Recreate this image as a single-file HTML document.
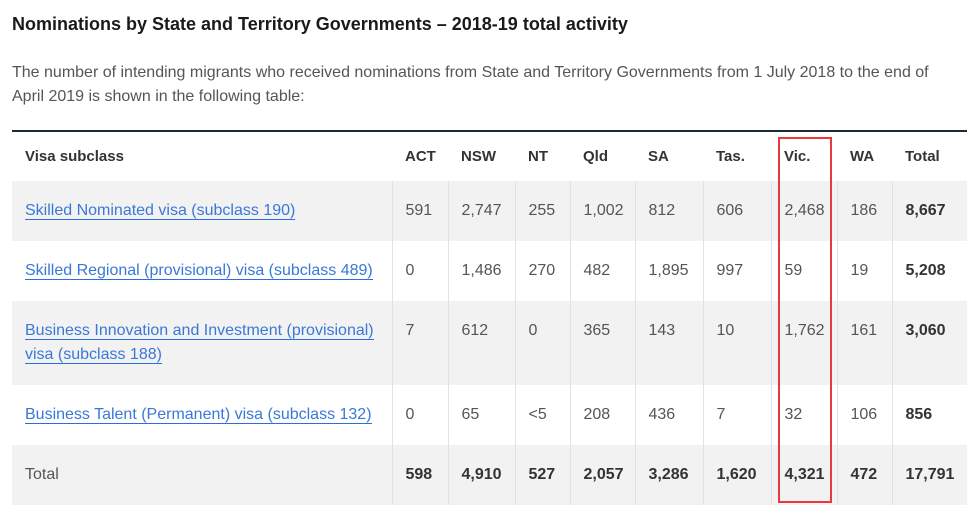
<!DOCTYPE html>
<html><head><meta charset="utf-8"><style>
body{margin:0;background:#fff;font-family:"Liberation Sans",sans-serif;width:979px;height:513px;overflow:hidden;position:relative}
h1{position:absolute;left:12px;top:14px;margin:0;font-size:18px;font-weight:bold;color:#1a1a1a}
p{position:absolute;left:12px;top:61px;margin:0;width:950px;font-size:16px;line-height:24px;color:#555}
table{position:absolute;left:12px;top:130px;border-collapse:collapse;table-layout:fixed;width:955px;border-top:2px solid #1c2a3a}
td,th{font-size:16px;line-height:24px;padding:18px 0 18px 13px;text-align:left;vertical-align:top;color:#555;font-weight:normal;border-left:1px solid #e2e2e2}
td:first-child,th{border-left:none}
th{font-size:15px;color:#333;font-weight:bold;padding:13px 0 12px 13px}
tr.g td{background:#f2f2f2}
td b{color:#333}
a{color:#3a78d8;text-decoration:none;border-bottom:1.5px solid #2a6ee0}
#vic{position:absolute;left:778px;top:137px;width:50px;height:362px;border:2.5px solid #e8393b}
</style></head><body>
<h1>Nominations by State and Territory Governments – 2018-19 total activity</h1>
<p>The number of intending migrants who received nominations from State and Territory Governments from 1 July 2018 to the end of April 2019 is shown in the following table:</p>
<table>
<colgroup><col style="width:380px"><col style="width:56px"><col style="width:67px"><col style="width:55px"><col style="width:65px"><col style="width:68px"><col style="width:68px"><col style="width:66px"><col style="width:55px"><col style="width:75px"></colgroup>
<tr><th>Visa subclass</th><th>ACT</th><th>NSW</th><th>NT</th><th>Qld</th><th>SA</th><th>Tas.</th><th>Vic.</th><th>WA</th><th>Total</th></tr>
<tr class="g"><td><a href="#">Skilled Nominated visa (subclass 190)</a></td><td>591</td><td>2,747</td><td>255</td><td>1,002</td><td>812</td><td>606</td><td>2,468</td><td>186</td><td><b>8,667</b></td></tr>
<tr><td><a href="#">Skilled Regional (provisional) visa (subclass 489)</a></td><td>0</td><td>1,486</td><td>270</td><td>482</td><td>1,895</td><td>997</td><td>59</td><td>19</td><td><b>5,208</b></td></tr>
<tr class="g"><td><a href="#">Business Innovation and Investment (provisional)<br>visa (subclass 188)</a></td><td>7</td><td>612</td><td>0</td><td>365</td><td>143</td><td>10</td><td>1,762</td><td>161</td><td><b>3,060</b></td></tr>
<tr><td><a href="#">Business Talent (Permanent) visa (subclass 132)</a></td><td>0</td><td>65</td><td>&lt;5</td><td>208</td><td>436</td><td>7</td><td>32</td><td>106</td><td><b>856</b></td></tr>
<tr class="g"><td>Total</td><td><b>598</b></td><td><b>4,910</b></td><td><b>527</b></td><td><b>2,057</b></td><td><b>3,286</b></td><td><b>1,620</b></td><td><b>4,321</b></td><td><b>472</b></td><td><b>17,791</b></td></tr>
</table>
<div id="vic"></div>
</body></html>
